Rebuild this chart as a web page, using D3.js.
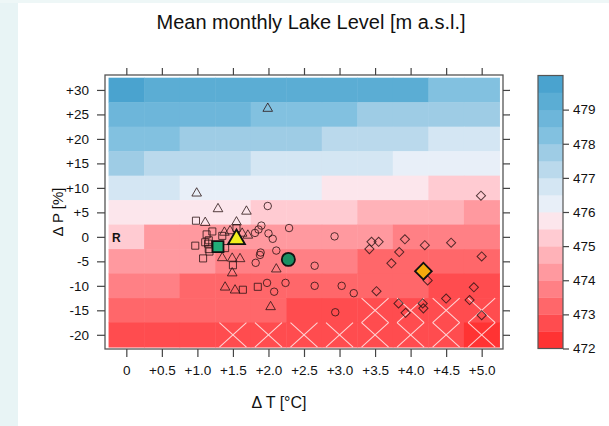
<!DOCTYPE html>
<html>
<head>
<meta charset="utf-8">
<script src="https://cdn.jsdelivr.net/npm/d3@7"></script>
<style>
  body { margin: 0; background: #fff; }
  svg { display: block; font-family: "Liberation Sans", Arial, sans-serif; }
</style>
</head>
<body>
<svg width="609" height="426"></svg>
<script>
// scenario grid: temperature change (cols) x precipitation change (rows)
const DT = [0, 0.5, 1.0, 1.5, 2.0, 2.5, 3.0, 3.5, 4.0, 4.5, 5.0];
const DP = [30, 25, 20, 15, 10, 5, 0, -5, -10, -15, -20];
const DT_LABELS = ['0', '+0.5', '+1.0', '+1.5', '+2.0', '+2.5', '+3.0', '+3.5', '+4.0', '+4.5', '+5.0'];
const DP_LABELS = ['+30', '+25', '+20', '+15', '+10', '+5', '0', '-5', '-10', '-15', '-20'];

// mean monthly lake level [m a.s.l.], one row per DP value
const LEVEL = [
    [479.7, 479.2, 479.2, 479.2, 479.2, 479.2, 479.2, 479.2, 479.2, 478.2, 478.2],
    [478.7, 478.7, 478.7, 478.7, 478.2, 478.2, 478.2, 477.7, 477.7, 477.7, 477.7],
    [478.2, 478.2, 477.7, 477.7, 477.7, 477.7, 477.2, 477.2, 477.2, 476.7, 476.7],
    [477.7, 477.2, 477.2, 477.2, 476.7, 476.7, 476.7, 476.7, 476.2, 476.2, 476.2],
    [476.7, 476.7, 476.2, 476.2, 476.2, 476.2, 475.7, 475.7, 475.7, 475.2, 475.2],
    [475.7, 475.7, 475.7, 475.7, 475.2, 475.2, 475.2, 474.7, 474.7, 474.7, 474.2],
    [475.2, 474.2, 474.2, 474.2, 474.2, 474.2, 474.2, 474.2, 473.7, 473.7, 473.7],
    [474.2, 474.2, 474.2, 473.7, 473.7, 473.7, 473.7, 473.2, 473.2, 473.2, 473.2],
    [473.7, 473.7, 473.2, 473.2, 473.2, 473.2, 473.2, 473.2, 473.2, 472.7, 472.7],
    [473.2, 473.2, 473.2, 473.2, 473.2, 472.7, 472.7, 472.7, 472.7, 472.7, 472.7],
    [472.7, 472.7, 472.7, 472.7, 472.7, 472.7, 472.7, 472.7, 472.7, 472.7, 472.2]
];

// crossed-out cells [dT, dP]
const CROSSED = [
    [3.5, -15], [4.0, -15], [4.5, -15], [5.0, -15],
    [1.5, -20], [2.0, -20], [2.5, -20], [3.0, -20], [3.5, -20], [4.0, -20], [4.5, -20], [5.0, -20]
];

// colour key
const BREAKS = [472, 472.5, 473, 473.5, 474, 474.5, 475, 475.5, 476, 476.5, 477, 477.5, 478, 478.5, 479, 479.5, 480];
const KEY_TICKS = [472, 473, 474, 475, 476, 477, 478, 479];
const COLORS = [
    '#ff3333', '#ff4c4f', '#ff676a', '#ff8085', '#ff999f', '#ffb2b8', '#ffcbd2', '#fce6ec',
    '#e8eff8', '#d4e6f3', '#bad9ec', '#9ecce5', '#82c1e0', '#6db6da', '#5badd4', '#4aa3cf'
];

// model runs [dT, dP]
const TRIANGLES = [
    [1.99, 26.2], [0.99, 8.9], [1.29, 5.7], [1.69, 5.2], [1.11, 2.9], [1.55, 3.0],
    [1.38, 0.9], [1.46, 1.2], [1.63, 0.7], [1.71, 0.3], [1.35, -4.3], [1.49, -4.4],
    [1.60, -4.5], [1.49, -7.4], [1.39, -10.3], [1.53, -10.9], [2.11, -6.6], [2.03, -14.3]
];
const SQUARES = [
    [0.98, 3.3], [0.97, -1.8], [1.13, 0.5], [1.21, 1.1], [1.11, -1.1], [1.16, -0.7],
    [1.15, -1.4], [1.08, -4.4], [1.17, -3.0], [1.16, -2.5], [1.39, -2.3], [1.35, 0.2],
    [1.55, 1.8], [1.50, -5.8], [1.64, -10.8], [1.85, -10.2]
];
const CIRCLES = [
    [1.99, 6.3], [2.29, 1.8], [1.90, 2.3], [1.86, 1.5], [1.81, 0.8], [2.00, 0.7],
    [2.06, -0.4], [2.11, -2.8], [1.88, -3.7], [1.89, -3.2], [1.82, -5.3], [1.98, -9.4],
    [2.08, -11.2], [2.24, -9.4], [2.93, 0.1], [2.65, -5.9], [2.65, -10.0], [3.03, -10.0],
    [3.20, -11.5], [2.94, -15.4]
];
const DIAMONDS = [
    [4.99, 8.4], [3.45, -1.0], [3.55, -1.0], [3.42, -2.5], [3.92, -0.5], [4.20, -1.7],
    [4.57, -1.2], [3.84, -3.1], [3.73, -5.4], [5.0, -4.0], [4.24, -8.9], [3.52, -11.1],
    [4.89, -10.3], [3.83, -13.6], [3.93, -15.5], [4.17, -13.6], [4.18, -14.6], [4.50, -12.6],
    [4.83, -12.9], [5.0, -16.0]
];
// ensemble means
const MEANS = [
    { shape: 'square', t: 1.29, p: -2.0, fill: '#21ad78' },
    { shape: 'triangle', t: 1.55, p: -0.5, fill: '#f2ee1e' },
    { shape: 'circle', t: 2.28, p: -4.6, fill: '#1b8f62' },
    { shape: 'diamond', t: 4.18, p: -7.0, fill: '#f7a90c' }
];

const svg = d3.select('svg');

// pale page edge from the original screenshot
svg.append('rect').attr('x', 0).attr('y', 0).attr('width', 18).attr('height', 426).attr('fill', '#e8f4f5');
svg.append('rect').attr('x', 0).attr('y', 0).attr('width', 609).attr('height', 3).attr('fill', '#eef7f7');

const x = d3.scaleLinear().domain([-0.3, 5.3]).range([105, 503]);
const y = d3.scaleLinear().domain([-22.9, 33.05]).range([349, 75]);
const color = d3.scaleThreshold().domain(BREAKS.slice(1, -1)).range(COLORS);

// heatmap cells
const cells = [];
DP.forEach((p, i) => DT.forEach((t, j) => cells.push({ t, p, v: LEVEL[i][j] })));

svg.append('g')
    .selectAll('rect')
    .data(cells)
    .enter()
    .append('rect')
    .attr('x', d => x(d.t - 0.25))
    .attr('y', d => y(d.p + 2.5))
    .attr('width', d => x(d.t + 0.25) - x(d.t - 0.25) + 0.5)
    .attr('height', d => y(d.p - 2.5) - y(d.p + 2.5) + 0.5)
    .attr('fill', d => color(d.v));

// white crosses
svg.append('g')
    .selectAll('path')
    .data(CROSSED)
    .enter()
    .append('path')
    .attr('d', d => {
        const x0 = x(d[0] - 0.19), x1 = x(d[0] + 0.19);
        const y0 = y(d[1] + 2.5), y1 = y(d[1] - 2.5);
        return `M${x0},${y0}L${x1},${y1}M${x0},${y1}L${x1},${y0}`;
    })
    .attr('stroke', '#fff')
    .attr('stroke-opacity', 0.75)
    .attr('stroke-width', 1.1)
    .attr('fill', 'none');

svg.append('text')
    .attr('x', x(-0.14))
    .attr('y', y(0) + 5)
    .attr('text-anchor', 'middle')
    .style('font-size', '12px')
    .style('font-weight', 'bold')
    .attr('fill', '#111')
    .text('R');

// small markers
const symbolPath = (type, size) => d3.symbol().type(type).size(size)();
const drawMarkers = (data, type, size, rotate) => {
    svg.append('g')
        .selectAll('path')
        .data(data)
        .enter()
        .append('path')
        .attr('d', symbolPath(type, size))
        .attr('transform', d => `translate(${x(d[0])},${y(d[1])})` + (rotate ? ' rotate(45)' : ''))
        .attr('fill', 'none')
        .attr('stroke', '#2a1414')
        .attr('stroke-opacity', 0.8)
        .attr('stroke-width', 1);
};
drawMarkers(SQUARES, d3.symbolSquare, 50, false);
drawMarkers(TRIANGLES, d3.symbolTriangle, 40, false);
drawMarkers(CIRCLES, d3.symbolCircle, 44, false);
drawMarkers(DIAMONDS, d3.symbolSquare, 42, true);

const BIG = {
    square: [d3.symbolSquare, 120, false],
    triangle: [d3.symbolTriangle, 125, false],
    circle: [d3.symbolCircle, 135, false],
    diamond: [d3.symbolSquare, 140, true]
};
svg.append('g')
    .selectAll('path')
    .data(MEANS)
    .enter()
    .append('path')
    .attr('d', d => symbolPath(BIG[d.shape][0], BIG[d.shape][1]))
    .attr('transform', d => `translate(${x(d.t)},${y(d.p)})` + (BIG[d.shape][2] ? ' rotate(45)' : ''))
    .attr('fill', d => d.fill)
    .attr('stroke', '#111')
    .attr('stroke-width', 1.8);

// panel frame and axes (ticks on all four sides, labels left and bottom)
svg.append('rect')
    .attr('x', 105).attr('y', 75).attr('width', 398).attr('height', 274)
    .attr('fill', 'none').attr('stroke', '#555').attr('stroke-width', 1.3);

const styleAxis = g => {
    g.select('.domain').remove();
    g.selectAll('line').attr('stroke', '#444').attr('stroke-width', 1.2);
    g.selectAll('text').attr('fill', '#111').style('font-size', '13.5px');
};

svg.append('g')
    .attr('transform', 'translate(0,349)')
    .call(d3.axisBottom(x).tickValues(DT).tickFormat((d, i) => DT_LABELS[i]).tickSizeInner(8).tickPadding(8))
    .call(styleAxis);
svg.append('g')
    .attr('transform', 'translate(0,75)')
    .call(d3.axisTop(x).tickValues(DT).tickFormat('').tickSizeInner(7))
    .call(styleAxis);
svg.append('g')
    .attr('transform', 'translate(105,0)')
    .call(d3.axisLeft(y).tickValues(DP).tickFormat((d, i) => DP_LABELS[i]).tickSizeInner(8).tickPadding(8))
    .call(styleAxis);
svg.append('g')
    .attr('transform', 'translate(503,0)')
    .call(d3.axisRight(y).tickValues(DP).tickFormat('').tickSizeInner(7))
    .call(styleAxis);

// colour key
const ky = d3.scaleLinear().domain([472, 480]).range([348.5, 75.5]);
svg.append('g')
    .selectAll('rect')
    .data(COLORS)
    .enter()
    .append('rect')
    .attr('x', 538)
    .attr('y', (d, i) => ky(BREAKS[i + 1]))
    .attr('width', 25)
    .attr('height', (d, i) => ky(BREAKS[i]) - ky(BREAKS[i + 1]) + 0.4)
    .attr('fill', d => d);
svg.append('rect')
    .attr('x', 538).attr('y', 75.5).attr('width', 25).attr('height', 273)
    .attr('fill', 'none').attr('stroke', '#555').attr('stroke-width', 1.2);
svg.append('g')
    .attr('transform', 'translate(563,0)')
    .call(d3.axisRight(ky).tickValues(KEY_TICKS).tickFormat(d3.format('d')).tickSizeInner(6).tickPadding(4))
    .call(styleAxis);

// titles
svg.append('text')
    .attr('x', 311).attr('y', 29)
    .attr('text-anchor', 'middle')
    .style('font-size', '20px')
    .attr('fill', '#111')
    .text('Mean monthly Lake Level [m a.s.l.]');

svg.append('text')
    .attr('x', 279).attr('y', 408)
    .attr('text-anchor', 'middle')
    .style('font-size', '16px')
    .attr('fill', '#111')
    .text('Δ T [°C]');

svg.append('text')
    .attr('transform', 'translate(63,212) rotate(-90)')
    .attr('text-anchor', 'middle')
    .style('font-size', '15px')
    .attr('fill', '#111')
    .text('Δ P [%]');
</script>
</body>
</html>
